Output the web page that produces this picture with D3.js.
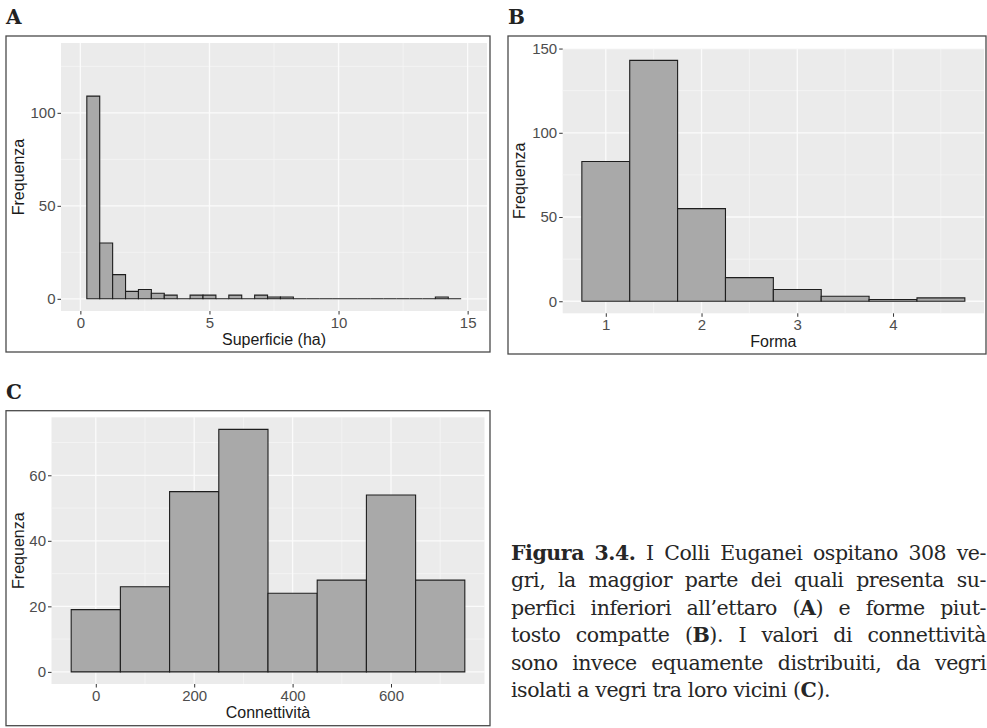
<!DOCTYPE html>
<html>
<head>
<meta charset="utf-8">
<script src="https://cdn.jsdelivr.net/npm/d3@7/dist/d3.min.js"></script>
<style>
  html, body { margin: 0; padding: 0; background: #ffffff; }
  svg { display: block; }
</style>
</head>
<body>
<svg id="fig" width="987" height="728"></svg>
<script>
// ---------- DATA ----------
// Panel A: Superficie (ha), bin width 0.5
const areaBinWidth = 0.5;
const areaBinCenters = [0.5, 1, 1.5, 2, 2.5, 3, 3.5, 4, 4.5, 5, 5.5, 6, 6.5, 7, 7.5, 8,
  8.5, 9, 9.5, 10, 10.5, 11, 11.5, 12, 12.5, 13, 13.5, 14, 14.5];
const areaCounts = [109, 30, 13, 4, 5, 3, 2, 0, 2, 2, 0, 2, 0, 2, 1, 1,
  0, 0, 0, 0, 0, 0, 0, 0, 0, 0, 0, 1, 0];
const areaXTicks = [0, 5, 10, 15];
const areaXMinor = [2.5, 7.5, 12.5];
const areaYTicks = [0, 50, 100];
const areaYMinor = [25, 75, 125];

// Panel B: Forma, bin width 0.5
const formBinWidth = 0.5;
const formBinCenters = [1, 1.5, 2, 2.5, 3, 3.5, 4, 4.5];
const formCounts = [83, 143, 55, 14, 7, 3, 1, 2];
const formXTicks = [1, 2, 3, 4];
const formXMinor = [1.5, 2.5, 3.5, 4.5];
const formYTicks = [0, 50, 100, 150];
const formYMinor = [25, 75, 125];

// Panel C: Connettività, bin width 100
const connBinWidth = 100;
const connBinCenters = [0, 100, 200, 300, 400, 500, 600, 700];
const connCounts = [19, 26, 55, 74, 24, 28, 54, 28];
const connXTicks = [0, 200, 400, 600];
const connXMinor = [100, 300, 500, 700];
const connYTicks = [0, 20, 40, 60];
const connYMinor = [10, 30, 50, 70];

const panelLabels = ["A", "B", "C"];
const xTitles = ["Superficie (ha)", "Forma", "Connettività"];
const yTitle = "Frequenza";

const captionLines = [
  "**Figura** **3.4.** I Colli Euganei ospitano 308 ve-",
  "gri, la maggior parte dei quali presenta su-",
  "perfici inferiori all’ettaro (**A**) e forme piut-",
  "tosto compatte (**B**). I valori di connettività",
  "sono invece equamente distribuiti, da vegri",
  "isolati a vegri tra loro vicini (**C**)."
];

// ---------- DRAWING ----------
const svg = d3.select("#fig");
const SANS = "'Liberation Sans', Arial, Helvetica, sans-serif";
const SERIF = "'DejaVu Serif', 'Liberation Serif', serif";

function drawHist(o) {
  const g = svg.append("g");
  // outer frame
  g.append("rect")
    .attr("x", o.frame[0]).attr("y", o.frame[1])
    .attr("width", o.frame[2] - o.frame[0]).attr("height", o.frame[3] - o.frame[1])
    .attr("fill", "none").attr("stroke", "#4a4a4a").attr("stroke-width", 1.3);
  // panel label
  g.append("text").attr("x", o.labelPos[0]).attr("y", o.labelPos[1])
    .attr("font-family", SERIF).attr("font-weight", "bold").attr("font-size", 20)
    .attr("fill", "#222").text(o.label);

  const x = d3.scaleLinear().domain(o.xDomain).range([o.panel[0], o.panel[2]]);
  const y = d3.scaleLinear().domain(o.yDomain).range([o.panel[3], o.panel[1]]);

  // panel background
  g.append("rect")
    .attr("x", o.panel[0]).attr("y", o.panel[1])
    .attr("width", o.panel[2] - o.panel[0]).attr("height", o.panel[3] - o.panel[1])
    .attr("fill", "#EBEBEB");

  // minor grid
  g.selectAll(null).data(o.xMinor).enter().append("line")
    .attr("x1", d => x(d)).attr("x2", d => x(d))
    .attr("y1", o.panel[1]).attr("y2", o.panel[3])
    .attr("stroke", "#f6f6f6").attr("stroke-width", 0.7);
  g.selectAll(null).data(o.yMinor).enter().append("line")
    .attr("y1", d => y(d)).attr("y2", d => y(d))
    .attr("x1", o.panel[0]).attr("x2", o.panel[2])
    .attr("stroke", "#f6f6f6").attr("stroke-width", 0.7);
  // major grid
  g.selectAll(null).data(o.xTicks).enter().append("line")
    .attr("x1", d => x(d)).attr("x2", d => x(d))
    .attr("y1", o.panel[1]).attr("y2", o.panel[3])
    .attr("stroke", "#fbfbfb").attr("stroke-width", 1.3);
  g.selectAll(null).data(o.yTicks).enter().append("line")
    .attr("y1", d => y(d)).attr("y2", d => y(d))
    .attr("x1", o.panel[0]).attr("x2", o.panel[2])
    .attr("stroke", "#fbfbfb").attr("stroke-width", 1.3);

  // bars (paths so that zero-height bins still draw their outline)
  const bins = o.centers.map((c, i) => ({ x0: c - o.width / 2, x1: c + o.width / 2, n: o.counts[i] }));
  g.selectAll(null).data(bins).enter().append("path")
    .attr("d", d => {
      const p = d3.path();
      p.moveTo(x(d.x0), y(0));
      p.lineTo(x(d.x0), y(d.n));
      p.lineTo(x(d.x1), y(d.n));
      p.lineTo(x(d.x1), y(0));
      p.closePath();
      return p.toString();
    })
    .attr("fill", "#A9A9A9").attr("stroke", "#1e1e1e").attr("stroke-width", 1.1);

  // axes
  const xAxis = d3.axisBottom(x).tickValues(o.xTicks).tickSize(3.5).tickPadding(3)
    .tickFormat(d3.format("d"));
  const yAxis = d3.axisLeft(y).tickValues(o.yTicks).tickSize(3.5).tickPadding(2)
    .tickFormat(d3.format("d"));
  const gx = g.append("g").attr("transform", `translate(0,${o.panel[3]})`).call(xAxis);
  const gy = g.append("g").attr("transform", `translate(${o.panel[0]},0)`).call(yAxis);
  [gx, gy].forEach(a => {
    a.select(".domain").remove();
    a.selectAll(".tick line").attr("stroke", "#333").attr("stroke-width", 1);
    a.selectAll(".tick text").attr("fill", "#4D4D4D")
      .attr("font-family", SANS).attr("font-size", 15);
  });
  gx.selectAll(".tick text").attr("dy", "0.71em");

  // axis titles
  g.append("text")
    .attr("x", (o.panel[0] + o.panel[2]) / 2).attr("y", o.panel[3] + 34)
    .attr("text-anchor", "middle").attr("font-family", SANS).attr("font-size", 16)
    .attr("fill", "#1a1a1a").text(o.xTitle);
  g.append("text")
    .attr("transform", `translate(${o.yTitleX},${(o.panel[1] + o.panel[3]) / 2}) rotate(-90)`)
    .attr("dy", "0.35em")
    .attr("text-anchor", "middle").attr("font-family", SANS).attr("font-size", 16)
    .attr("fill", "#1a1a1a").text(yTitle);
}

drawHist({
  label: panelLabels[0], labelPos: [6, 24],
  frame: [6, 36, 490, 352],
  panel: [61, 43, 487, 311],
  xDomain: [-0.75, 15.75], yDomain: [-6.55, 137.55],
  centers: areaBinCenters, width: areaBinWidth, counts: areaCounts,
  xTicks: areaXTicks, xMinor: areaXMinor, yTicks: areaYTicks, yMinor: areaYMinor,
  xTitle: xTitles[0], yTitleX: 18
});

drawHist({
  label: panelLabels[1], labelPos: [508, 24],
  frame: [508, 36, 986, 354],
  panel: [562.7, 48.3, 984, 313.3],
  xDomain: [0.55, 4.95], yDomain: [-7.15, 150.15],
  centers: formBinCenters, width: formBinWidth, counts: formCounts,
  xTicks: formXTicks, xMinor: formXMinor, yTicks: formYTicks, yMinor: formYMinor,
  xTitle: xTitles[1], yTitleX: 519
});

drawHist({
  label: panelLabels[2], labelPos: [6, 399],
  frame: [6, 410.7, 490, 725.7],
  panel: [51.5, 417.3, 484.5, 684],
  xDomain: [-90, 790], yDomain: [-3.7, 77.7],
  centers: connBinCenters, width: connBinWidth, counts: connCounts,
  xTicks: connXTicks, xMinor: connXMinor, yTicks: connYTicks, yMinor: connYMinor,
  xTitle: xTitles[2], yTitleX: 18
});

// ---------- CAPTION (justified) ----------
const capLeft = 511, capRight = 986, capTop = 560, capLead = 27.4;
let capSize = 20.5;
const cap = svg.append("g")
  .attr("font-family", SERIF)
  .attr("letter-spacing", "-0.45px")
  .attr("fill", "#262626");

function parseWord(w) {
  const parts = w.split("**");
  return parts.map((t, i) => ({ t, b: i % 2 === 1 })).filter(s => s.t.length);
}

function layoutCaption(size) {
  cap.selectAll("*").remove();
  let maxNatural = 0;
  captionLines.forEach((line, li) => {
    const words = line.split(" ");
    const yy = capTop + li * capLead;
    const nodes = words.map(w => {
      const t = cap.append("text").attr("y", yy).attr("font-size", size);
      parseWord(w).forEach(s => t.append("tspan").attr("font-weight", s.b ? "bold" : "normal").text(s.t));
      return t;
    });
    const widths = nodes.map(n => n.node().getComputedTextLength());
    const total = d3.sum(widths);
    const space = size * 0.26;
    const natural = total + space * (words.length - 1);
    maxNatural = Math.max(maxNatural, natural);
    const last = li === captionLines.length - 1;
    const gap = last ? space + 1 : (capRight - capLeft - total) / (words.length - 1);
    let cx = capLeft;
    nodes.forEach((n, i) => { n.attr("x", cx); cx += widths[i] + gap; });
  });
  return maxNatural;
}
let nat = layoutCaption(capSize);
while (nat > capRight - capLeft && capSize > 14) {
  capSize -= 0.25;
  nat = layoutCaption(capSize);
}
</script>
</body>
</html>
